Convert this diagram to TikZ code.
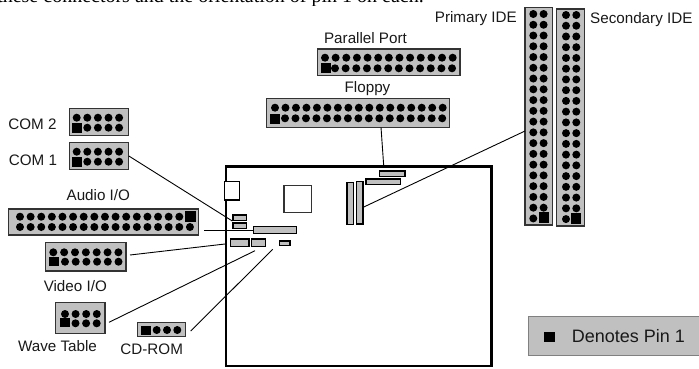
\documentclass[tikz,border=0pt]{standalone}
\usepackage{fontspec}
\setmainfont{Liberation Sans}
\newfontfamily\serifface{Liberation Serif}
\definecolor{hdr}{HTML}{C0C0C0}
\tikzset{
 y=-1pt,x=1pt,
 header/.style={draw=black!80,line width=1.1pt,fill=hdr,inner sep=0pt},
 chip/.style={draw=black,line width=1.1pt,fill=hdr,inner sep=0pt},
 link/.style={draw=black,line width=.9pt},
 lbl/.style={font=\fontsize{15.2pt}{16pt}\selectfont,inner sep=0pt,text=black!90},
}
\newcommand{\pinrow}[4]{\foreach \i in {1,...,#4}{\fill[black] ({#1+(\i-1)*#3},#2) circle (4pt);}}
\newcommand{\pincol}[4]{\foreach \i in {1,...,#4}{\fill[black] (#1,{#2+(\i-1)*#3}) circle (4pt);}}
\newcommand{\boxat}[5]{\node[#1,minimum width={(#4)*1pt},minimum height={(#5)*1pt}] (#2) at #3 {};}
\begin{document}
\begin{tikzpicture}
\useasboundingbox (0,0) rectangle (699,368);
\begin{scope}
\clip (0,0) rectangle (699,5);
\node[anchor=base east,inner sep=0pt,font=\serifface\fontsize{20pt}{22pt}\selectfont] at (424,2.8) {these connectors and the orientation of pin 1 on each.};
\end{scope}
% board
\draw[line width=2.8pt] (226,166.7) rectangle (491.7,366);
\boxat{chip,fill=white}{port}{(231.7,190.8)}{15.3}{18.3}
\boxat{chip,fill=white,draw=black!80}{cpu}{(297.8,199.2)}{27.7}{27}
\boxat{chip}{bcomb}{(239.8,217.8)}{13.7}{5.7}
\boxat{chip}{bcoma}{(239.8,225.8)}{13.7}{5.7}
\boxat{chip}{baudio}{(275,230)}{43.4}{6.6}
\boxat{chip}{bvideo}{(239.6,242.6)}{18.7}{7.3}
\boxat{chip}{bwave}{(258.5,242.6)}{14.4}{7.3}
\boxat{chip}{bcd}{(284.6,243.1)}{10.7}{4.3}
\boxat{chip}{bfdd}{(392.1,173.8)}{25.7}{5.7}
\boxat{chip}{bpar}{(383.3,181.8)}{34.7}{5.7}
\boxat{chip}{bide2}{(350.3,203.5)}{6.7}{42.4}
\boxat{chip}{bide1}{(359.6,202.8)}{6.7}{42.3}
% COM2
\boxat{header}{com2}{(98.8,121.7)}{59}{26.7}
\pinrow{76.7}{117.7}{10.6}{5} \pinrow{87.3}{127.7}{10.6}{4}
\fill (71.7,123.3) rectangle (82,133.3);
\node[lbl] at (32.5,124.3) {COM 2};
% COM1
\boxat{header}{com1}{(98.8,156)}{59}{26.7}
\pinrow{76.7}{151.7}{10.6}{5} \pinrow{87.3}{161.7}{10.6}{4}
\fill (71.7,156.7) rectangle (82,167.3);
\node[lbl] at (33,160) {COM 1};
% Audio
\node[lbl] at (98.3,195) {Audio I/O};
\boxat{header}{audio}{(103.3,222)}{190}{26}
\pinrow{20}{216.7}{10.62}{16} \pinrow{20}{227}{10.62}{17}
\fill (185,210.7) rectangle (196,222);
% Video
\boxat{header}{video}{(85.8,256.8)}{80.3}{28.3}
\pinrow{53.3}{252.3}{10.85}{7} \pinrow{65}{261.7}{10.7}{6}
\fill (49,257.3) rectangle (59,265.7);
\node[lbl] at (75.3,286) {Video I/O};
% Wave
\boxat{header}{wave}{(80.3,317.8)}{49.3}{31}
\pinrow{65}{314}{10.6}{4} \pinrow{75.5}{323.3}{10.6}{3}
\fill (60.3,318.3) rectangle (70,326.7);
\node[lbl] at (57.5,345.7) {Wave Table};
% CD
\boxat{header}{cd}{(161.2,329.4)}{47.7}{13.3}
\pinrow{156.7}{330}{10.3}{3}
\fill (141.3,326) rectangle (151,335.3);
\node[lbl] at (151.7,349) {CD-ROM};
% Parallel
\node[lbl] at (365.5,37.7) {Parallel Port};
\boxat{header}{par}{(388.8,62.3)}{142.3}{26.7}
\pinrow{325}{57.7}{10.64}{13} \pinrow{335}{68.3}{10.64}{12}
\fill (321,62.7) rectangle (331,72.7);
% Floppy
\node[lbl] at (367.5,89) {Floppy};
\boxat{header}{fdd}{(357.7,112.8)}{183.3}{29}
\pinrow{275}{107.7}{10.48}{17} \pinrow{285}{118.3}{10.48}{16}
\fill (270,114) rectangle (280,124);
% IDE
\boxat{header}{ide1}{(538.8,116.3)}{27.7}{217.3}
\pincol{533.3}{14}{10.76}{20}\pincol{543.6}{14}{10.76}{19}
\fill (539,212.3) rectangle (549.3,223.3);
\boxat{header}{ide2}{(570.5,117.5)}{27.7}{217}
\pincol{566}{15}{10.74}{20}\pincol{576.3}{15}{10.74}{19}
\fill (571,213.3) rectangle (581,224);
\node[lbl,anchor=east] at (517,19) {Primary IDE};
\node[lbl,anchor=west] at (590,20) {Secondary IDE};
% legend
\boxat{draw=black!50,line width=1pt,fill=hdr,inner sep=0pt}{legend}{(617,336.3)}{177.4}{39.3}
\fill (544,331.7) rectangle (555,341.7);
\node[lbl,anchor=west,font=\fontsize{18pt}{19pt}\selectfont] at (571.7,335.7) {Denotes Pin 1};
% connectors
\coordinate (c1) at (232.3,221);
\coordinate (a1) at (204,230);
\coordinate (v0) at (130,255);
\coordinate (v1) at (225,244);
\coordinate (w0) at (109,322.3);
\coordinate (w1) at (255,250.7);
\coordinate (d0) at (190.7,331);
\coordinate (d1) at (272.7,249.3);
\coordinate (f0) at (381,127.3);
\coordinate (f1) at (383.7,165.7);
\coordinate (i0) at (525,131);
\coordinate (i1) at (362.3,207.7);
\draw[link] (com1.east) -- (c1);
\draw[link] (a1) -- (baudio.west);
\draw[link] (v0) -- (v1);
\draw[link] (w0) -- (w1);
\draw[link] (d0) -- (d1);
\draw[link] (f0) -- (f1);
\draw[link] (i0) -- (i1);
\end{tikzpicture}
\end{document}
